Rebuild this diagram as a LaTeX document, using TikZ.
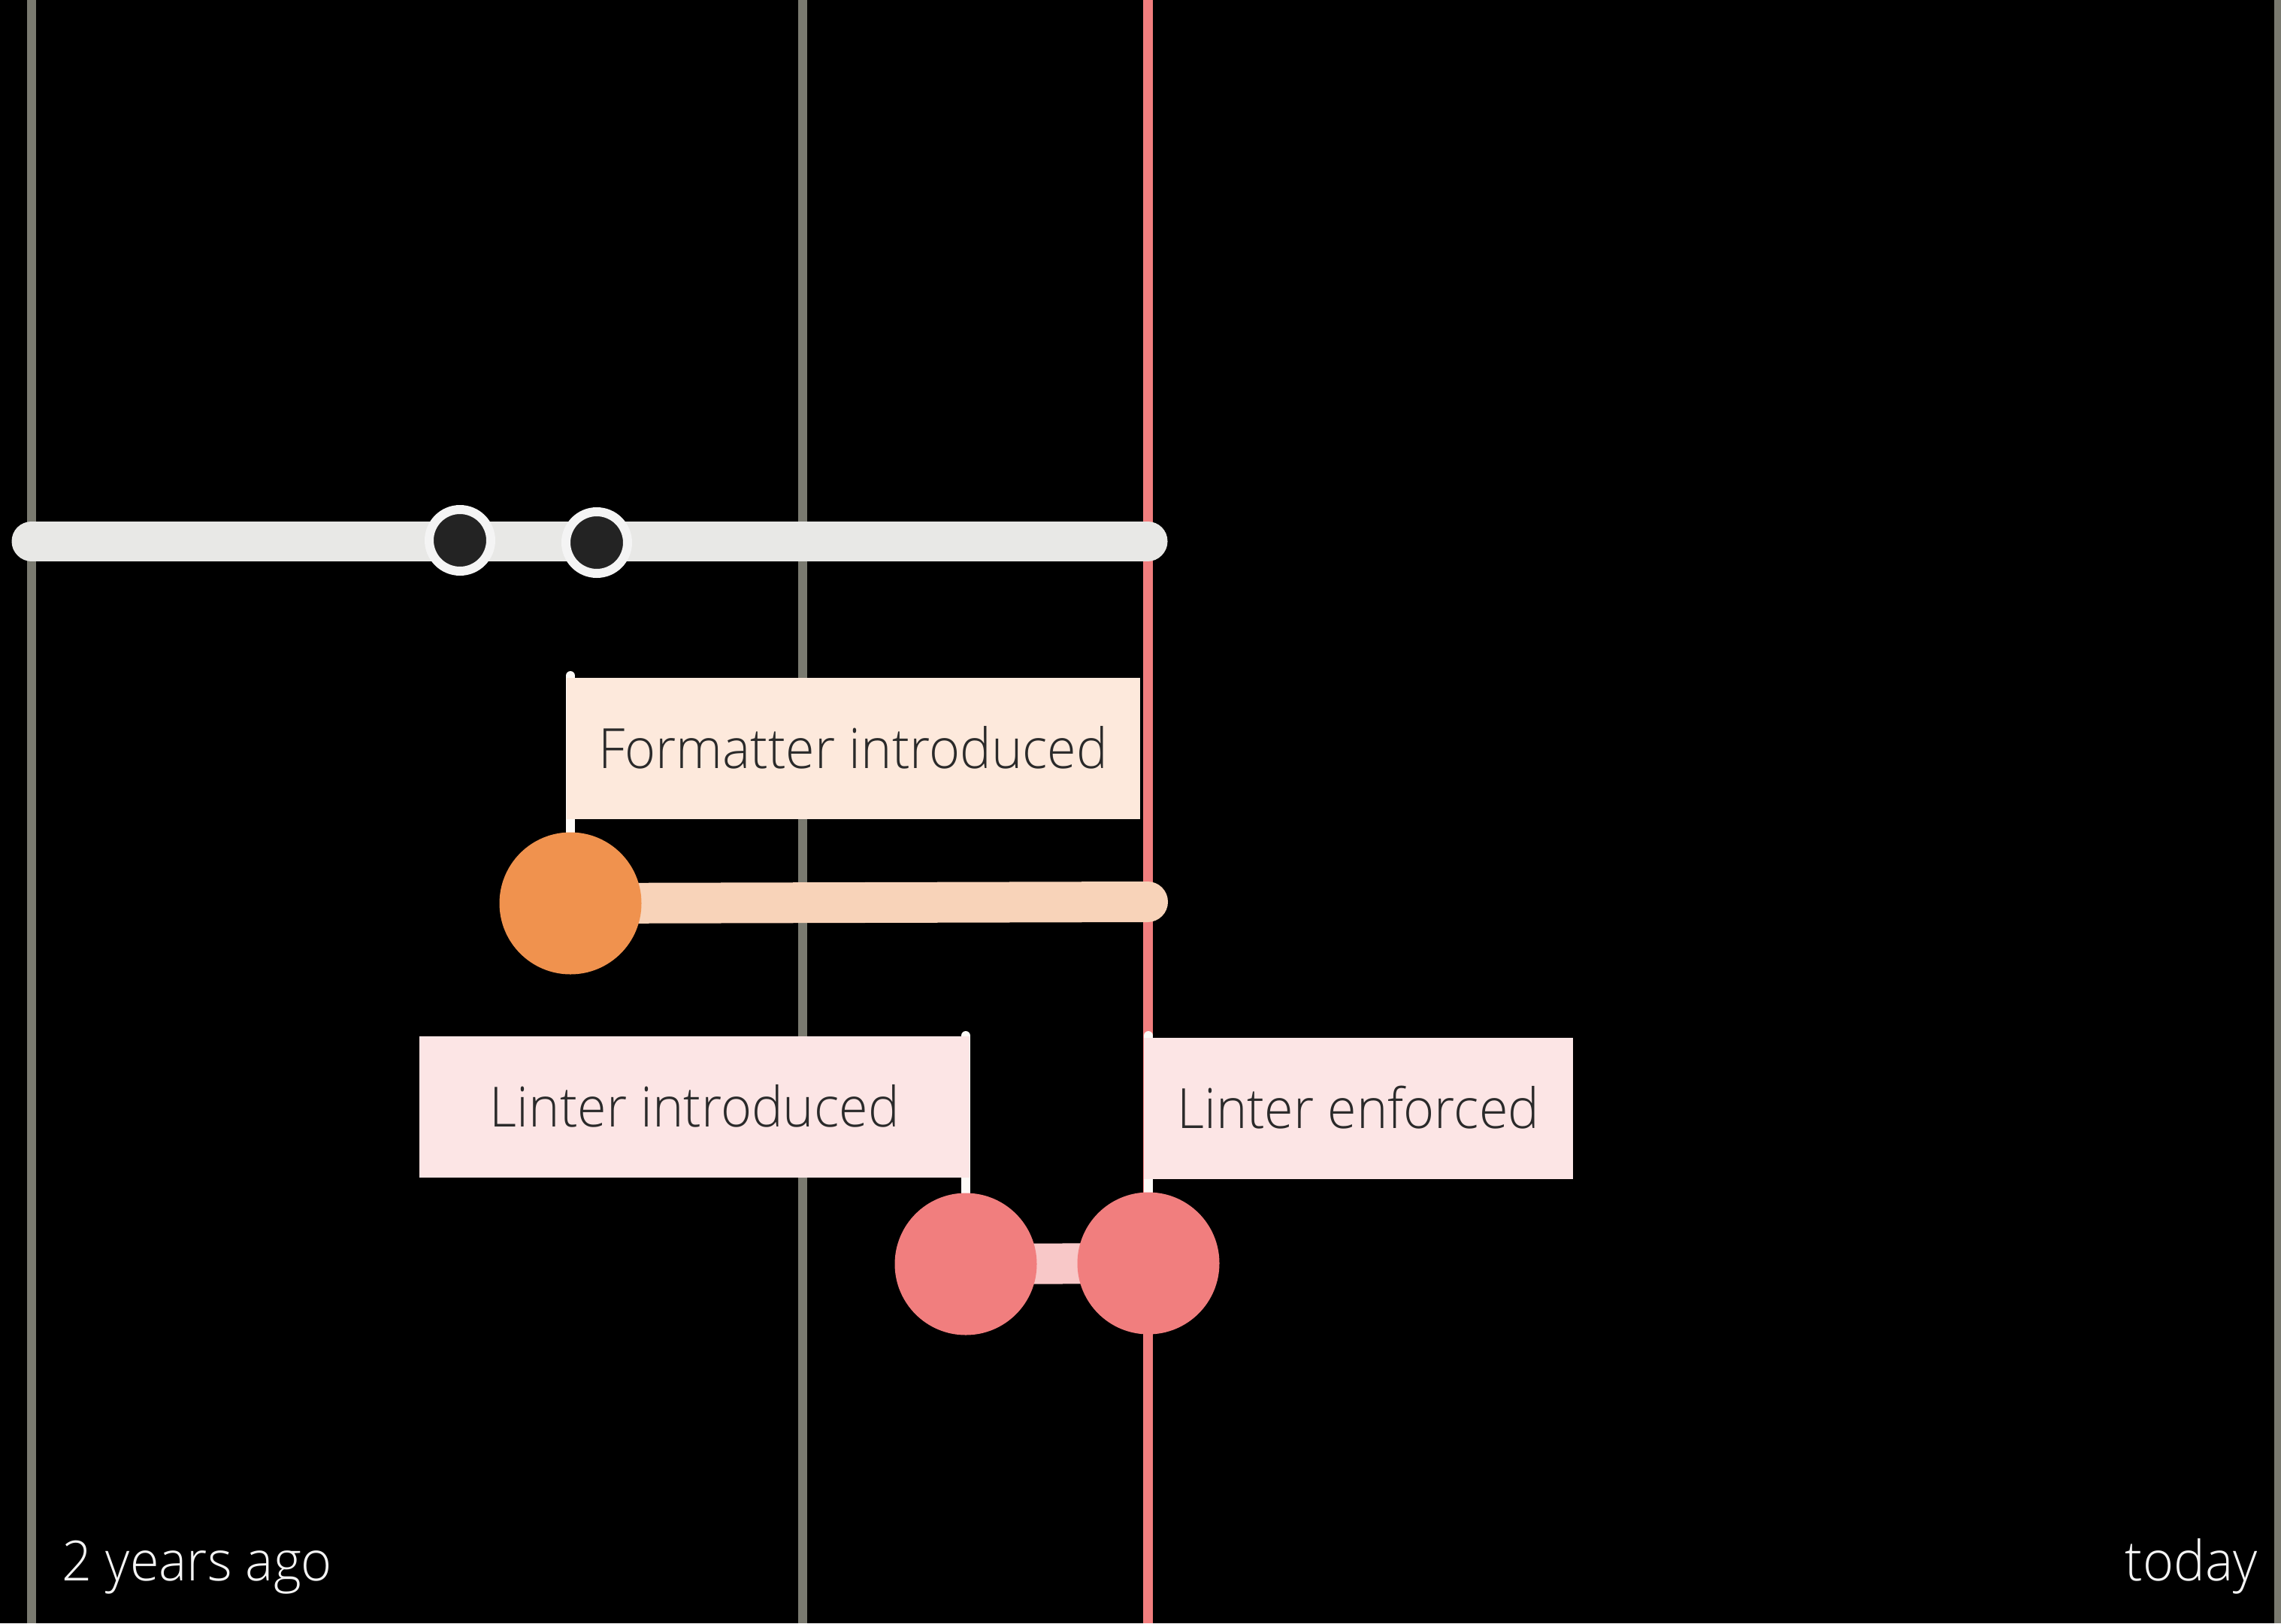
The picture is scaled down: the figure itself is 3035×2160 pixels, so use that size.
\documentclass[tikz,border=0pt]{standalone}
\usepackage{fontspec}
\IfFontExistsTF{Open Sans Light}{\setmainfont{Open Sans Light}[FakeStretch=0.95]}{\setmainfont{Open Sans}[FakeStretch=0.95]}
\usepackage{xcolor}
\usepackage{tikz}
\usetikzlibrary{positioning,calc}
\definecolor{gridgray}{HTML}{7A7A70}
\definecolor{nowred}{HTML}{F17E7E}
\definecolor{tracklight}{HTML}{E8E8E6}
\definecolor{dotdark}{HTML}{232323}
\definecolor{ringwhite}{HTML}{F4F4F4}
\definecolor{fmtorange}{HTML}{F0924E}
\definecolor{fmtspan}{HTML}{F8D3B9}
\definecolor{fmtbox}{HTML}{FDE9DC}
\definecolor{lintred}{HTML}{F17E7E}
\definecolor{lintspan}{HTML}{F8C8C8}
\definecolor{lintbox}{HTML}{FCE5E5}
\definecolor{ink}{HTML}{2A2A2A}
\definecolor{polewhite}{HTML}{FDFAF7}

\begin{document}
\begin{tikzpicture}[x=0.1mm, y=-0.1mm,
  vline/.style={draw=gridgray, line width=1.2mm},
  nowline/.style={draw=nowred, line width=1.3mm},
  track/.style={draw=tracklight, line width=5.3mm, line cap=round},
  commit/.style={circle, fill=dotdark, draw=ringwhite, line width=1.2mm, minimum size=8.2mm, inner sep=0pt},
  event/.style={circle, minimum size=18.9mm, inner sep=0pt},
  span/.style={line width=5.4mm, line cap=round},
  pole/.style={draw=polewhite, line width=1.2mm, line cap=round},
  flag/.style={rectangle, minimum height=18.8mm, text height=5.3mm, text depth=0pt, inner xsep=0pt, text=ink, font=\fontsize{21}{25}\selectfont},
  axis/.style={text=ringwhite, inner sep=0pt, font=\fontsize{21}{25}\selectfont}
]
\fill[black] (0,0) rectangle (3035,2160);
\useasboundingbox (0,0) rectangle (3035,2160);

\foreach \x in {42,1068,3032}
  \draw[vline] (\x,0) -- (\x,2160);
\draw[nowline] (1527,0) -- (1527,2160);

\coordinate (trackstart) at (42,720);
\coordinate (trackend) at (1527,720);
\draw[track] (trackstart) -- (trackend);
\node[commit] (c1) at (612,719) {};
\node[commit] (c2) at (794,722) {};

\coordinate (fmtpt) at (759,1202);
\coordinate (fmtend) at (1527,1200);
\coordinate (fmttop) at (759,899);
\coordinate (lintpt) at (1285,1682);
\coordinate (enfpt) at (1528,1681);
\coordinate (linttop) at (1285,1378);
\coordinate (enftop) at (1528,1378);

\draw[span, fmtspan] (fmtpt) -- (fmtend);
\draw[span, lintspan, line cap=butt] (lintpt) -- (enfpt);
\draw[pole] (fmtpt) -- (fmttop);
\draw[pole] (lintpt) -- (linttop);
\draw[pole] (enfpt) -- (enftop);

\node[flag, fill=fmtbox, minimum width=76.3mm, anchor=north west] (fmtlbl) at (753,901) {Formatter introduced};
\node[flag, fill=lintbox, minimum width=73.2mm, anchor=north east] (lintlbl) at (1291,1378) {Linter introduced};
\node[flag, fill=lintbox, minimum width=57.1mm, anchor=north west] (enflbl) at (1521,1380) {Linter enforced};

\node[event, fill=fmtorange] (fmt) at (fmtpt) {};
\node[event, fill=lintred] (lint) at (lintpt) {};
\node[event, fill=lintred] (enf) at (enfpt) {};

\node[axis, anchor=base west] (ago) at (82,2103) {2 years ago};
\node[axis, anchor=base east] (today) at (3004,2103) {today};
\end{tikzpicture}
\end{document}
